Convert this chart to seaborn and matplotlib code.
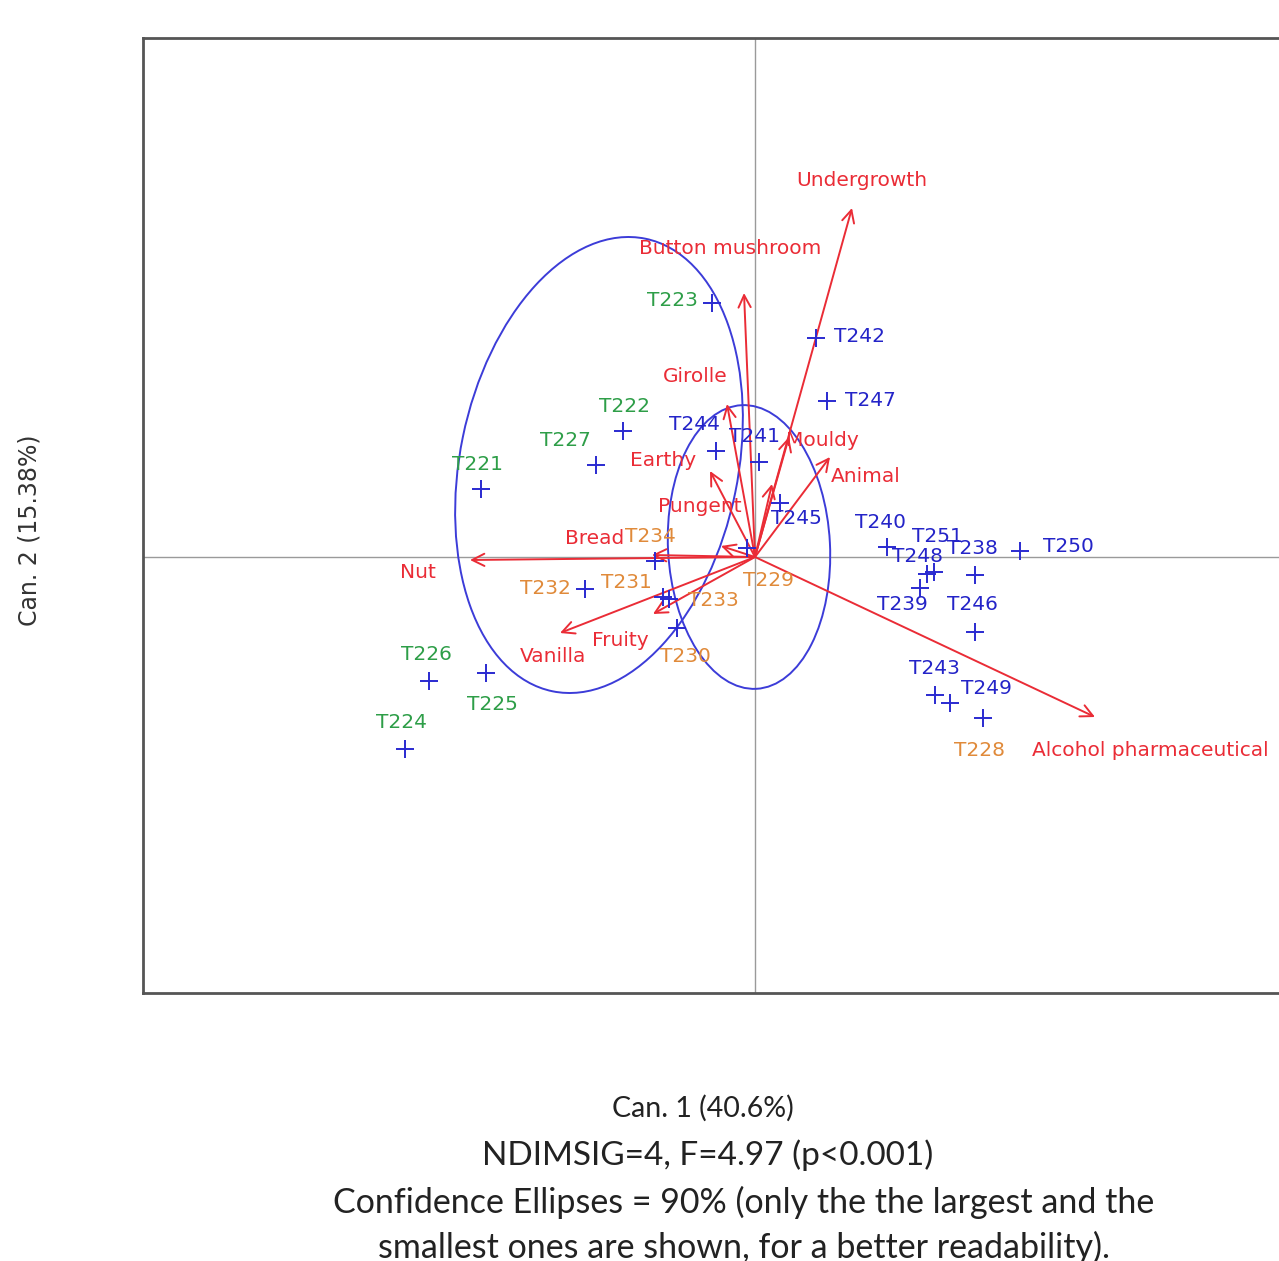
import numpy as np
import pandas as pd
import matplotlib
matplotlib.use("Agg")
import matplotlib.pyplot as plt
from matplotlib.patches import Ellipse
import seaborn as sns

# ---- observation scores on the first two canonical axes ----
obs_names = ["T221", "T222", "T223", "T224", "T225", "T226", "T227",
             "T228", "T229", "T230", "T231", "T232", "T233", "T234",
             "T238", "T239", "T240", "T241", "T242", "T243", "T244",
             "T245", "T246", "T247", "T248", "T249", "T250", "T251"]
obs_can1 = [-2.74, -1.32, -0.43, -3.50, -2.69, -3.26, -1.59,
            2.28, -0.08, -0.78, -0.92, -1.70, -0.86, -1.00,
            2.20, 1.65, 1.32, 0.04, 0.61, 1.80, -0.39,
            0.25, 2.20, 0.72, 1.72, 1.95, 2.65, 1.79]
obs_can2 = [0.68, 1.26, 2.54, -1.92, -1.16, -1.24, 0.92,
            -1.61, 0.09, -0.71, -0.40, -0.32, -0.42, -0.04,
            -0.18, -0.31, 0.10, 0.95, 2.19, -1.38, 1.06,
            0.54, -0.75, 1.56, -0.17, -1.46, 0.06, -0.15]
obs_group = ["A"] * 7 + ["B"] * 7 + ["C"] * 14

# ---- descriptor vectors ----
var_names = ["Undergrowth", "Button mushroom", "Girolle", "Mouldy", "",
             "Animal", "Earthy", "Pungent", "Bread", "Nut", "Vanilla",
             "Fruity", "Alcohol pharmaceutical"]
var_can1 = [0.97, -0.11, -0.28, 0.34, 0.17, 0.75, -0.45, -0.34,
            -1.03, -2.85, -1.95, -1.02, 3.40]
var_can2 = [3.49, 2.64, 1.53, 1.20, 0.73, 1.00, 0.86, 0.11,
            0.02, -0.03, -0.76, -0.57, -1.60]

# ---- 90% confidence ellipses (largest and smallest) ----
ell_cx = [-1.56, -0.06]
ell_cy = [0.92, 0.10]
ell_w = [2.78, 1.62]
ell_h = [4.62, 2.84]
ell_angle = [-11.6, 3.0]

obs = pd.DataFrame({"name": obs_names, "can1": obs_can1,
                    "can2": obs_can2, "group": obs_group})
var = pd.DataFrame({"name": var_names, "can1": var_can1, "can2": var_can2})

# styling
group_colors = {"A": "#2e9e48", "B": "#e08a3a", "C": "#2424c8"}
marker_color = "#2a2ad0"
red = "#ea2c36"
ellipse_color = "#3c3cd8"
label_size = 14.5

# label placement offsets in pixels (dx, dy)
obs_offsets = {
    "T221": (-3, 25), "T222": (2, 25), "T223": (-40, 3), "T224": (-3, 26),
    "T225": (6, -32), "T226": (-3, 26), "T227": (-31, 24), "T228": (-3, -32),
    "T229": (21, -32), "T230": (8, -29), "T231": (-37, 14), "T232": (-40, 0),
    "T233": (44, -2), "T234": (-5, 24), "T238": (-3, 27), "T239": (-18, -17),
    "T240": (-6, 25), "T241": (-4, 26), "T242": (44, 1), "T243": (-1, 27),
    "T244": (-21, 26), "T245": (16, -16), "T246": (-3, 28), "T247": (43, 0),
    "T248": (-9, 18), "T249": (36, 14), "T250": (48, 5), "T251": (3, 35),
}
var_offsets = {
    "Undergrowth": (10, 27), "Button mushroom": (-14, 44), "Girolle": (-32, 27),
    "Mouldy": (33, -3), "": (0, 0), "Animal": (36, -20), "Earthy": (-47, 10),
    "Pungent": (-21, 39), "Bread": (-57, 17), "Nut": (-52, -13),
    "Vanilla": (-7, -24), "Fruity": (-33, -27),
    "Alcohol pharmaceutical": (55, -33),
}

sns.set_style("white")
plt.rcParams["font.family"] = ["DejaVu Sans"]

W, H = 1279, 1261
fig = plt.figure(figsize=(W / 100, H / 100), dpi=100)
x0, x1, y0, y1 = 143, 1290, 38, 993
ax = fig.add_axes([x0 / W, 1 - y1 / H, (x1 - x0) / W, (y1 - y0) / H])
ox, oy, scale = 755, 557, 100.0
ax.set_xlim((x0 - ox) / scale, (x1 - ox) / scale)
ax.set_ylim((oy - y1) / scale, (oy - y0) / scale)
ax.set_xticks([])
ax.set_yticks([])
for sp in ax.spines.values():
    sp.set_color("#555555")
    sp.set_linewidth(2)

ax.axhline(0, color="#9a9a9a", lw=1, zorder=1)
ax.axvline(0, color="#9a9a9a", lw=1, zorder=1)

# ellipses
for cx, cy, w, h, a in zip(ell_cx, ell_cy, ell_w, ell_h, ell_angle):
    ax.add_patch(Ellipse((cx, cy), w, h, angle=a, fill=False,
                         edgecolor=ellipse_color, lw=1.4, zorder=2))

# descriptor arrows
for _, r in var.iterrows():
    ax.annotate("", xy=(r.can1, r.can2), xytext=(0, 0),
                arrowprops=dict(arrowstyle="->", color=red, lw=1.4,
                                mutation_scale=22, shrinkA=0, shrinkB=0),
                zorder=3)
    if r["name"]:
        dx, dy = var_offsets[r["name"]]
        ax.annotate(r["name"], xy=(r.can1, r.can2), xytext=(dx, dy),
                    textcoords="offset pixels", ha="center", va="center",
                    color=red, fontsize=label_size, zorder=5)

# observations
sns.scatterplot(data=obs, x="can1", y="can2", marker="+", s=170,
                color=marker_color, linewidth=1.4, ax=ax, zorder=4,
                legend=False)
for _, r in obs.iterrows():
    dx, dy = obs_offsets[r["name"]]
    ax.annotate(r["name"], xy=(r.can1, r.can2), xytext=(dx, dy),
                textcoords="offset pixels", ha="center", va="center",
                color=group_colors[r.group], fontsize=label_size, zorder=5)
ax.set_xlabel("")
ax.set_ylabel("")

fig.text(30 / W, 1 - 530 / H, "Can. 2 (15.38%)", rotation=90,
         ha="center", va="center", fontsize=17, color="#333333")

cap_font = ["Lato", "DejaVu Sans"]
fig.text(703 / W, 1 - 1108 / H, "Can. 1 (40.6%)", ha="center", va="center",
         fontsize=20.5, family=cap_font, color="#222222")
fig.text(708 / W, 1 - 1155 / H, "NDIMSIG=4, F=4.97 (p<0.001)", ha="center",
         va="center", fontsize=24, family=cap_font, color="#222222")
fig.text(744 / W, 1 - 1202 / H,
         "Confidence Ellipses = 90% (only the the largest and the",
         ha="center", va="center", fontsize=24.5, family=cap_font,
         color="#222222")
fig.text(744 / W, 1 - 1247 / H,
         "smallest ones are shown, for a better readability).",
         ha="center", va="center", fontsize=24.5, family=cap_font,
         color="#222222")

fig.savefig("out.png", dpi=100)
